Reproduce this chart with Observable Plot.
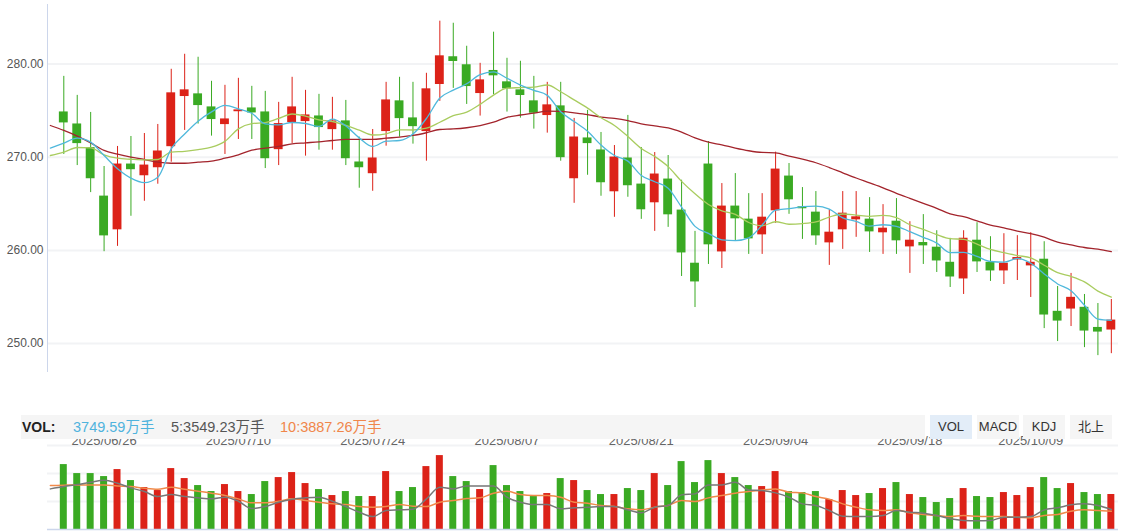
<!DOCTYPE html>
<html><head><meta charset="utf-8">
<script src="https://cdn.jsdelivr.net/npm/d3@7"></script>
<script src="https://cdn.jsdelivr.net/npm/@observablehq/plot@0.6"></script>
<style>
body{margin:0;background:#fff;font-family:"Liberation Sans",Arial,"Noto Sans CJK SC",sans-serif;}
#wrap{position:relative;width:1124px;height:531px;overflow:hidden;background:#fff;}
#price{position:absolute;left:0;top:0;}
#vol{position:absolute;left:0;top:428px;}
#bar{position:absolute;left:21px;top:415px;width:904px;height:24px;background:#f5f5f5;z-index:2;line-height:24px;}
.lab{position:absolute;top:0;white-space:nowrap;font-size:14.5px;}
.btn{position:absolute;top:415px;width:42px;height:24px;line-height:24px;background:#f5f5f5;text-align:center;font-size:13px;color:#333;z-index:2;}
</style></head>
<body>
<div id="wrap">
  <div id="price"></div>
  <div id="vol"></div>
  <div id="bar">
    <span class="lab" style="left:1px;font-weight:bold;font-size:14px;color:#222">VOL:</span>
    <span class="lab" style="left:52px;color:#4fb3dd">3749.59万手</span>
    <span class="lab" style="left:150px;color:#555">5:3549.23万手</span>
    <span class="lab" style="left:259px;color:#f0864a">10:3887.26万手</span>
  </div>
  <div class="btn" style="left:930px;background:#e3edf8">VOL</div>
  <div class="btn" style="left:977px">MACD</div>
  <div class="btn" style="left:1023px">KDJ</div>
  <div class="btn" style="left:1070px">北上</div>
</div>
<script>
const dates = ["2025/06/23","2025/06/24","2025/06/25","2025/06/26","2025/06/27","2025/06/30","2025/07/01","2025/07/02","2025/07/03","2025/07/04",
"2025/07/07","2025/07/08","2025/07/09","2025/07/10","2025/07/11","2025/07/14","2025/07/15","2025/07/16","2025/07/17","2025/07/18",
"2025/07/21","2025/07/22","2025/07/23","2025/07/24","2025/07/25","2025/07/28","2025/07/29","2025/07/30","2025/07/31","2025/08/01",
"2025/08/04","2025/08/05","2025/08/06","2025/08/07","2025/08/08","2025/08/11","2025/08/12","2025/08/13","2025/08/14","2025/08/15",
"2025/08/18","2025/08/19","2025/08/20","2025/08/21","2025/08/22","2025/08/25","2025/08/26","2025/08/27","2025/08/28","2025/08/29",
"2025/09/01","2025/09/02","2025/09/03","2025/09/04","2025/09/05","2025/09/08","2025/09/09","2025/09/10","2025/09/11","2025/09/12",
"2025/09/15","2025/09/16","2025/09/17","2025/09/18","2025/09/19","2025/09/22","2025/09/23","2025/09/24","2025/09/25","2025/09/26",
"2025/09/29","2025/09/30","2025/10/09","2025/10/10","2025/10/13","2025/10/14","2025/10/15","2025/10/16","2025/10/17"];

const open = [274.80,273.51,270.97,265.77,262.26,269.21,268.06,268.92,271.18,276.56,
276.74,275.34,273.55,274.93,275.23,274.80,270.86,273.76,273.87,274.37,
273.01,273.84,269.43,268.28,272.80,275.99,274.16,272.80,277.85,280.72,
279.86,276.88,279.25,278.03,277.17,275.99,274.52,275.45,267.74,272.01,
270.72,266.34,269.86,267.06,265.16,267.60,264.27,258.57,269.21,259.89,
264.70,263.30,261.72,264.30,267.92,264.62,264.05,260.86,262.26,263.33,
263.30,261.94,263.08,260.43,260.79,260.29,258.67,256.99,261.04,258.67,
257.85,259.03,258.39,259.00,253.41,253.76,253.84,251.68,251.51];

const high = [278.67,276.63,274.80,269.00,271.15,272.22,272.54,273.51,279.43,281.04,
280.72,278.14,277.71,278.46,277.60,277.06,275.88,278.57,277.17,276.74,
276.42,276.09,272.15,272.97,278.03,278.57,278.03,279.00,284.59,284.37,
281.90,280.07,283.41,280.61,280.29,278.67,278.03,278.03,274.16,275.02,
272.65,271.25,274.48,271.04,270.50,270.18,267.53,262.04,271.68,267.17,
268.24,266.09,266.09,270.54,269.32,266.74,266.31,264.37,266.31,266.31,
265.66,264.91,265.56,263.08,263.84,262.11,261.29,262.11,262.97,261.47,
261.79,261.58,261.90,260.93,256.13,257.53,255.27,254.30,254.73];

const low = [270.29,269.10,266.20,259.86,260.43,263.66,265.27,267.10,269.46,272.87,
273.55,272.26,270.29,271.90,271.90,268.78,269.10,271.47,270.11,270.75,
270.75,269.10,266.67,266.34,271.18,272.15,271.40,269.57,275.99,277.38,
275.66,274.41,276.70,274.84,274.19,273.01,272.58,269.57,265.05,268.06,
265.81,263.55,265.70,263.33,262.04,262.47,257.20,253.87,258.49,258.06,
260.97,259.57,259.57,262.90,263.87,261.18,260.54,258.39,260.11,261.40,
259.78,259.57,259.57,257.53,258.49,257.63,256.02,255.27,257.63,256.67,
256.34,256.77,254.95,251.61,250.22,251.83,249.57,248.71,248.92];

const close = [273.73,271.51,267.74,261.61,269.21,268.71,269.10,270.61,276.85,277.17,
275.59,274.09,274.05,275.02,274.80,269.89,273.55,275.34,274.48,273.23,
273.84,269.89,268.92,269.86,276.09,274.19,273.33,277.28,280.82,280.32,
277.63,278.24,278.78,277.38,276.67,274.77,275.56,270.00,272.11,271.51,
267.31,269.96,266.99,264.41,268.14,263.87,259.78,256.67,260.65,264.70,
263.44,261.29,263.51,268.67,265.48,264.52,261.61,261.90,263.94,263.55,
262.04,262.33,261.08,261.04,260.54,258.92,257.20,261.25,258.82,257.85,
258.57,259.18,258.67,253.12,252.47,254.91,251.40,251.29,252.47];

// volume, 万手
const volume = [6955,5992,5992,5671,6420,5243,4494,4173,6527,5457,
4708,4066,4815,4066,3745,5136,5564,6099,4922,4280,
3638,4066,3531,3531,6206,4066,4494,6741,7918,5671,
5136,4280,6848,4708,4066,3531,3852,5457,5243,4173,
3745,3745,4387,4173,5992,4708,7276,5029,7383,5992,
5564,4708,4601,6206,4066,3959,4066,3210,4173,3638,
3852,4387,5029,3745,3424,2889,3317,4387,3531,3424,
3959,3638,4494,5564,4387,4922,3959,3745,3750];

// moving-average values before enough visible closes exist (index -1 onward)
const ma5Head = [270.97,271.51,272.04,271.61,270.18];
const ma10Head = [270.18,270.54,271.04,271.00,270.25,269.89,269.78,269.71,269.75,270.54];
const ma30Head = [273.40,272.87,272.26,271.54,270.72,270.32,270.00,269.75,269.46,269.35,
269.35,269.46,269.57,269.89,270.25,270.75,270.97,271.15,271.43,271.54,
271.65,271.79,271.90,271.90,271.90,272.04,272.15,272.33,272.62,272.97];

// volume moving averages (index -1 .. 78)
const volMa5 = [4352,4601,4815,5065,5279,4958,4459,4066,3531,3745,
3531,3389,3282,3460,3032,2247,2461,2925,3246,3389,
3460,3032,2461,1855,1391,2033,2105,2176,3282,4530,
4352,4673,4673,4673,3460,2925,2675,2675,2212,2319,
2390,2461,2461,2105,1784,2390,2568,3710,3817,4780,
4780,5065,4245,4173,3924,3460,2747,2568,2033,1427,
1391,1391,1498,2033,1855,1748,1498,1141,963,927,
963,1320,1320,1391,2105,2319,2640,2747,2568,2140];
const volMa10 = [4708,4744,4780,4780,4780,4673,4601,4423,4316,4530,
4316,4102,3888,3638,3282,2854,2854,3032,3282,3103,
2925,2747,2675,2461,2390,2461,2675,2497,2461,2925,
3103,3317,3389,3888,4102,3745,3638,3638,3460,2925,
2818,2568,2461,2212,2105,2390,2568,3103,2996,3389,
3638,3888,4066,4245,4352,3995,3924,3531,3246,2747,
2390,2105,2033,2105,1784,1605,1498,1391,1498,1427,
1391,1391,1320,1248,1498,1605,1962,2105,2033,1962];

const priceTicks = [250, 260, 270, 280];
const volGrid = [3000, 6000, 9000];
const dateTicks = ["2025/06/26","2025/07/10","2025/07/24","2025/08/07","2025/08/21","2025/09/04","2025/09/18","2025/10/09"];

const RED = "#dc2218", GREEN = "#3aaa23";
const candles = dates.map((d, i) => ({i, o: open[i], h: high[i], l: low[i], c: close[i], v: volume[i], up: close[i] >= open[i]}));

function ma(head, n) {
  const out = head.map((v, k) => ({i: k - 1, v}));
  for (let i = head.length - 1; i < close.length; i++) {
    let s = 0;
    for (let k = i - n + 1; k <= i; k++) s += close[k];
    out.push({i, v: s / n});
  }
  return out;
}
const ma5 = ma(ma5Head, 5), ma10 = ma(ma10Head, 10), ma30 = ma(ma30Head, 30);
const vma5 = volMa5.map((v, k) => ({i: k - 1, v}));
const vma10 = volMa10.map((v, k) => ({i: k - 1, v}));

const xDomain = [-1.2137, 78.533];
const font = {fontFamily: "'Liberation Sans', Arial, sans-serif", fontSize: "12px", background: "transparent"};

const bodyMarks = (up, color) => [
  Plot.ruleX(candles, {filter: d => d.up === up, x: "i", y1: "l", y2: "h", stroke: color, strokeWidth: 1}),
  Plot.rect(candles, {filter: d => d.up === up, x1: d => d.i - 0.33, x2: d => d.i + 0.33,
    y1: d => Math.min(d.o, d.c), y2: d => Math.max(d.o, d.c), fill: color, insetTop: -0.5, insetBottom: -0.5})
];

const price = Plot.plot({
  width: 1124, height: 376, marginLeft: 47, marginRight: 6, marginTop: 4, marginBottom: 4,
  style: font,
  x: {domain: xDomain, axis: null, label: null},
  y: {domain: [246.90, 286.38], axis: null, label: null},
  marks: [
    Plot.gridY(priceTicks, {stroke: "#f2f3f5", strokeOpacity: 1, strokeWidth: 2}),
    Plot.axisY(priceTicks, {tickSize: 0, tickPadding: 4, tickFormat: d => d.toFixed(2), fontSize: 12, fill: "#555", label: null}),
    Plot.ruleX([xDomain[0]], {stroke: "#ccd6eb"}),
    ...bodyMarks(true, RED),
    ...bodyMarks(false, GREEN),
    Plot.line(ma30, {x: "i", y: "v", stroke: "#a3242c", strokeWidth: 1.3, curve: "monotone-x"}),
    Plot.line(ma10, {x: "i", y: "v", stroke: "#a9cc5f", strokeWidth: 1.3, curve: "monotone-x"}),
    Plot.line(ma5, {x: "i", y: "v", stroke: "#4fb8dc", strokeWidth: 1.3, curve: "monotone-x"})
  ]
});
document.getElementById("price").appendChild(price);

const tickIdx = dateTicks.map(t => dates.indexOf(t));
const vol = Plot.plot({
  width: 1124, height: 103, marginLeft: 47, marginRight: 6, marginTop: 17, marginBottom: 2,
  style: font,
  x: {domain: xDomain, label: null},
  y: {domain: [0, 9000], axis: null, label: null},
  marks: [
    Plot.gridY(volGrid, {stroke: "#f2f3f5", strokeOpacity: 1, strokeWidth: 2}),
    Plot.axisX(tickIdx, {anchor: "top", tickSize: 0, tickPadding: 1, tickFormat: i => dates[i], fontSize: 13, fill: "#666", label: null}),
    Plot.rect(candles, {filter: d => d.up, x1: d => d.i - 0.26, x2: d => d.i + 0.26, y1: 0, y2: "v", fill: RED}),
    Plot.rect(candles, {filter: d => !d.up, x1: d => d.i - 0.26, x2: d => d.i + 0.26, y1: 0, y2: "v", fill: GREEN}),
    Plot.ruleY([0], {stroke: "#ccd6eb", strokeWidth: 1.5}),
    Plot.line(vma10, {x: "i", y: "v", stroke: "#f08a4b", strokeWidth: 1.5, curve: "monotone-x"}),
    Plot.line(vma5, {x: "i", y: "v", stroke: "#777", strokeWidth: 1.5, curve: "monotone-x"})
  ]
});
document.getElementById("vol").appendChild(vol);
</script>
</body></html>
